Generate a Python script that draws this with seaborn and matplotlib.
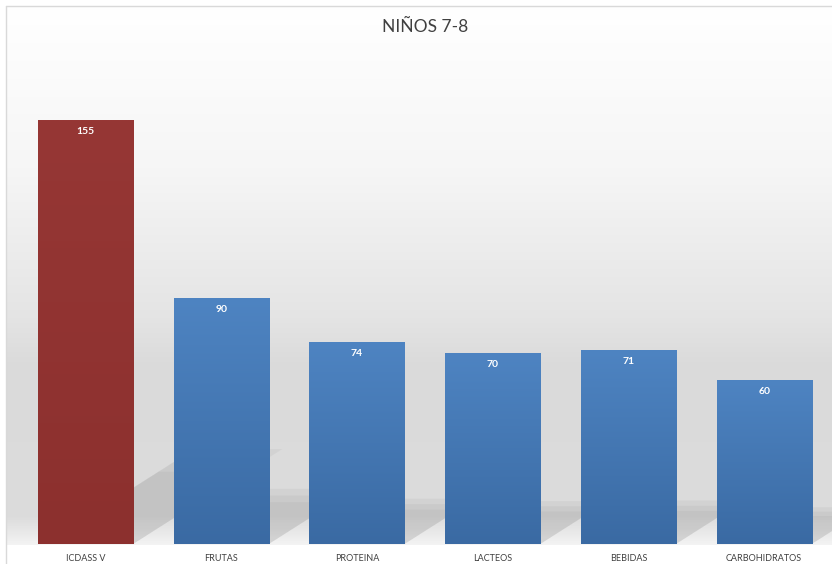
import numpy as np
import pandas as pd
import seaborn as sns
import matplotlib.pyplot as plt
from matplotlib.colors import LinearSegmentedColormap
from matplotlib.patches import Polygon

categories = ["ICDASS V", "FRUTAS", "PROTEINA", "LACTEOS", "BEBIDAS", "CARBOHIDRATOS"]
values = [155, 90, 74, 70, 71, 60]
title = "NIÑOS 7-8"

df = pd.DataFrame({"cat": categories, "val": values})

sns.set_theme(style="white")
plt.rcParams['font.family'] = ['Lato', 'DejaVu Sans']

fig = plt.figure(figsize=(8.32, 5.64), dpi=100)
fig.patch.set_facecolor("white")

# background gradient (figure coords)
bg = fig.add_axes([6/832, 19/564, 1 - 6/832, 1 - 25/564], zorder=0)
stops = [(0.0, "#f3f3f3"), (0.05, "#dcdcdc"), (0.33, "#dadada"), (0.42, "#e4e4e4"),
         (0.7, "#f6f6f6"), (1.0, "#ffffff")]
cmap_bg = LinearSegmentedColormap.from_list("bg", stops)
grad = np.linspace(0, 1, 256).reshape(-1, 1)
bg.imshow(grad, aspect="auto", cmap=cmap_bg, origin="lower", extent=[0, 1, 0, 1])
bg.set_axis_off()
fig.add_artist(plt.Line2D([6/832, 6/832], [0, 1 - 6/564], color="#d9d9d9", lw=1))
fig.add_artist(plt.Line2D([6/832, 1], [1 - 6/564, 1 - 6/564], color="#d9d9d9", lw=1))

ax = fig.add_axes([17.7/832, 20/564, 1 - 17.7/832, (544 - 40)/564], zorder=1)
ax.patch.set_alpha(0)

palette = ["#943634"] + ["#4a7ebb"] * (len(categories) - 1)
sns.barplot(data=df, x="cat", y="val", hue="cat", palette=palette, legend=False,
            width=0.7, ax=ax, saturation=1, zorder=3, linewidth=0)

ax.set_xlim(-0.5, len(categories) - 0.5)
ymax = (544 - 40) / (424 / 155)
ax.set_ylim(0, ymax)

# shadows + gradients in bars
for i, p in enumerate(ax.patches):
    x0 = p.get_x(); w = p.get_width(); h = p.get_height()
    dx = 0.0071 * h; dy = 0.224 * h
    for k, a in enumerate([0.10, 0.10, 0.10]):
        s = 1 - 0.12 * k
        poly = Polygon([(x0 + 0.05, 0), (x0 + w, 0), (x0 + w + dx * s, dy * s), (x0 + 0.05 + dx * s, dy * s)],
                       closed=True, facecolor="#8c8c8c", alpha=a, edgecolor="none", zorder=2)
        ax.add_patch(poly)
    if i == 0:
        cm = LinearSegmentedColormap.from_list("r", ["#8c302e", "#963735"])
    else:
        cm = LinearSegmentedColormap.from_list("b", ["#3a6aa3", "#4e84c2"])
    im = ax.imshow(grad, aspect="auto", cmap=cm, origin="lower",
                   extent=[x0, x0 + w, 0, h], zorder=3.5)
    im.set_clip_path(p)
    ax.text(x0 + w / 2, h - 12 / (424 / 155), f"{values[i]}", ha="center", va="center",
            color="white", fontsize=7.5, fontweight="bold", zorder=5)
ax.set_xlim(-0.5, len(categories) - 0.5)
ax.set_ylim(0, ymax)

ax.set_xlabel("")
ax.set_ylabel("")
ax.set_yticks([])
ax.tick_params(axis="x", length=0, pad=7, labelsize=6.5, labelcolor="#404040")
for s in ax.spines.values():
    s.set_visible(False)

fig.text(425/832, 1 - 27/564, title, ha="center", va="center", fontsize=12.5, color="#404040")

fig.savefig("out.png", dpi=100)
